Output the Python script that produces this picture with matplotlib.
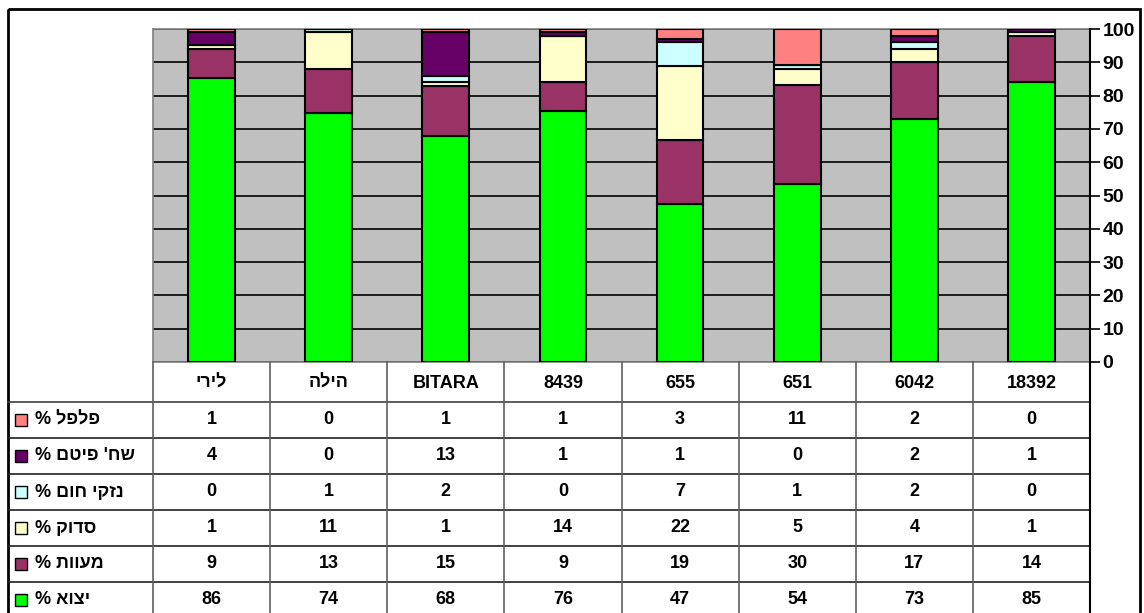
import numpy as np
import matplotlib
matplotlib.use("Agg")
import matplotlib.pyplot as plt
from matplotlib.patches import Rectangle

plt.rcParams['font.family'] = ['Liberation Sans', 'DejaVu Sans']
plt.rcParams['font.weight'] = 'bold'

# data (percent per category, bottom to top of each stack)
categories = ['לירי', 'הילה', 'BITARA', '8439', '655', '651', '6042', '18392']
series_names = ['יצוא %', 'מעוות %', 'סדוק %', 'נזקי חום %', "שח' פיטם %", 'פלפל %']
export_pct = [86, 74, 68, 76, 47, 54, 73, 85]
warped_pct = [9, 13, 15, 9, 19, 30, 17, 14]
cracked_pct = [1, 11, 1, 14, 22, 5, 4, 1]
heat_pct = [0, 1, 2, 0, 7, 1, 2, 0]
navel_pct = [4, 0, 13, 1, 1, 0, 2, 1]
pepper_pct = [1, 0, 1, 1, 3, 11, 2, 0]
series_values = [export_pct, warped_pct, cracked_pct, heat_pct, navel_pct, pepper_pct]
colors = ['#00FF00', '#993366', '#FFFFCC', '#CCFFFF', '#660066', '#FF8080']
yticks = list(range(0, 101, 10))


def vis(s):
    # matplotlib has no bidi: flip Hebrew strings to visual order
    if any('\u0590' <= c <= '\u05ff' for c in s):
        return s[::-1]
    return s


W, H = 1144, 613
fig = plt.figure(figsize=(W / 100, H / 100), dpi=100)

# pixel layout
px_left, px_right = 153, 1090
px_top, px_bottom = 29, 362
row_h = 36
header_bottom = 402
fs = 13

ax = fig.add_axes([px_left / W, 1 - px_bottom / H,
                   (px_right - px_left) / W, (px_bottom - px_top) / H])
ax.set_facecolor('#C0C0C0')

vals = np.array(series_values, dtype=float)
vals = vals / vals.sum(axis=0) * 100
x = np.arange(len(categories))
bottom = np.zeros(len(categories))
for v, c in zip(vals, colors):
    ax.bar(x, v, bottom=bottom, width=0.4, color=c, edgecolor='black',
           linewidth=1.5, zorder=3)
    bottom += v

ax.set_xlim(-0.5, len(categories) - 0.5)
ax.set_ylim(0, 100)
ax.set_yticks(yticks)
ax.yaxis.tick_right()
ax.set_xticks([])
ax.grid(axis='y', color='black', linewidth=1.2, zorder=1)
ax.set_axisbelow(True)
ax.tick_params(axis='y', direction='out', length=7, width=1.2,
               labelsize=14, pad=2)
for lab in ax.get_yticklabels():
    lab.set_fontweight('bold')
for s in ['left', 'top', 'bottom']:
    ax.spines[s].set_color('#808080')
    ax.spines[s].set_linewidth(1.2)
ax.spines['right'].set_visible(False)

# overlay in pixel coordinates for the data table and frame
ov = fig.add_axes([0, 0, 1, 1], zorder=5)
ov.set_xlim(0, W)
ov.set_ylim(H, 0)
ov.axis('off')
ov.patch.set_visible(False)

# outer frame
ov.add_patch(Rectangle((8, 9), 1132, 620, fill=False, edgecolor='black',
                       linewidth=2))

col_w = (px_right - px_left) / len(categories)
n_rows = len(series_names)
# horizontal lines
ov.plot([8, px_right], [header_bottom, header_bottom], color='#404040', lw=1.2)
for r in range(1, n_rows):
    y = header_bottom + r * row_h
    ov.plot([8, px_right], [y, y], color='#202020', lw=1.2)
# vertical lines
for k in range(len(categories)):
    xv = px_left + k * col_w
    ov.plot([xv, xv], [px_bottom, H], color='#606060', lw=1.2)
# right axis line running through table
ov.plot([px_right, px_right], [px_top, H], color='black', lw=1.5)

# header
for k, cat in enumerate(categories):
    ov.text(px_left + (k + 0.5) * col_w, (px_bottom + header_bottom) / 2 + 1,
            vis(cat), ha='center', va='center', fontsize=fs, fontweight='bold')

# rows: top row is last series
for r in range(n_rows):
    si = n_rows - 1 - r
    yc = header_bottom + (r + 0.5) * row_h
    ov.add_patch(Rectangle((15, yc - 6), 12, 12, facecolor=colors[si],
                           edgecolor='black', linewidth=1))
    ov.text(35, yc, vis(series_names[si]), ha='left', va='center',
            fontsize=fs, fontweight='bold')
    for k in range(len(categories)):
        ov.text(px_left + (k + 0.5) * col_w, yc, str(series_values[si][k]),
                ha='center', va='center', fontsize=fs, fontweight='bold')

fig.savefig('out.png', dpi=100)
